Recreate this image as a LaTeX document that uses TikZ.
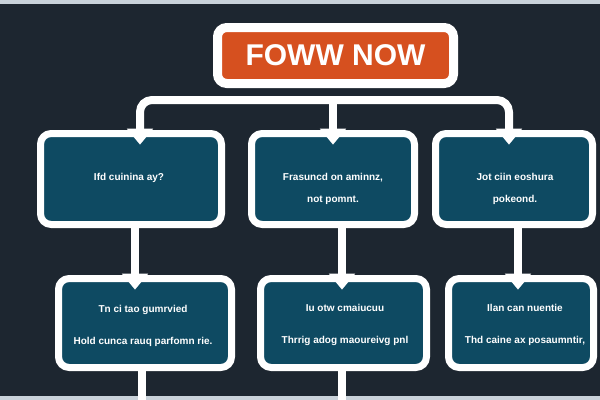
\documentclass[tikz,border=0pt]{standalone}
\usepackage{fontspec}
\setmainfont{Liberation Sans}
\usetikzlibrary{arrows.meta,positioning,calc}
\definecolor{bgnavy}{HTML}{1D2630}
\definecolor{boxteal}{HTML}{0E4A62}
\definecolor{btnorange}{HTML}{D6501F}
\definecolor{stripgrey}{HTML}{C9D2DA}

\begin{document}
\begin{tikzpicture}[x=0.75pt, y=-0.75pt,
  font=\bfseries,
  btn/.style={draw=white, line width=6.75pt, rounded corners=7pt, fill=btnorange,
              minimum width=177pt, minimum height=42pt, inner sep=0pt,
              text=white, font=\fontsize{22.5}{26}\selectfont\bfseries},
  box/.style={draw=white, line width=5.25pt, rounded corners=8pt, fill=boxteal,
              inner sep=0pt},
  ttop/.style={align=center, text=white, inner sep=0pt,
               font=\fontsize{7.5}{16.5}\selectfont\bfseries},
  tbot/.style={align=center, text=white, inner sep=0pt,
               font=\fontsize{7.5}{24}\selectfont\bfseries},
  tip/.style={-{Triangle[width=19pt, length=12pt]}},
  link/.style={draw=white, line width=6pt, line join=round}]

\useasboundingbox (0,0) rectangle (600,400);
\fill[bgnavy] (0,0) rectangle (600,400);
\fill[stripgrey] (0,0) rectangle (600,4);
\fill[stripgrey] (0,396) rectangle (600,400);

% ---------------- the button on top ---------------------------------------
\node[btn] (title) at (335.5,55.5) {FOWW NOW};

% ---------------- first row of boxes --------------------------------------
\node[box, minimum width=135.75pt, minimum height=68.25pt] (b1) at (131,179) {};
\node[box, minimum width=122.25pt, minimum height=68.25pt] (b2) at (333,179) {};
\node[box, minimum width=117.75pt, minimum height=68.25pt] (b3) at (514,179) {};

\node[ttop] (t1) at (129,178) {Ifd cuinina ay?};
\node[ttop] (t2) at (333,189) {Frasuncd on aminnz,\\not pomnt.};
\node[ttop] (t3) at (515,188.5) {Jot ciin eoshura\\pokeond.};

% ---------------- second row of boxes -------------------------------------
\node[box, minimum width=129.75pt, minimum height=66.75pt] (b4) at (145,323) {};
\node[box, minimum width=124.5pt, minimum height=66.75pt] (b5) at (343.5,323) {};
\node[box, minimum width=108.75pt, minimum height=66.75pt] (b6) at (521,323) {};

\node[tbot] (t4) at (143,326) {Tn ci tao gumrvied\\Hold cunca rauq parfomn rie.};
\node[tbot] (t5) at (345,325) {Iu otw cmaiucuu\\Thrrig adog maoureivg pnl};
\node[tbot] (t6) at (525,325) {Ilan can nuentie\\Thd caine ax posaumntir,};

% ---------------- the bar under the button --------------------------------
\coordinate (bar) at (333,100);
\draw[link, rounded corners=9pt, {Triangle[width=19pt, length=12pt]}-{Triangle[width=19pt, length=12pt]},
      shorten <=-11pt, shorten >=-11pt]
  ($(b1.north)+(9,0)$) |- (bar) -| ($(b3.north)+(-5,0)$);
\draw[link, tip, shorten >=-11pt] (bar) -- (b2.north);

% ---------------- from row to row -----------------------------------------
\foreach \u/\l/\x in {b1/b4/135, b2/b5/342, b3/b6/518} {
  \coordinate (x\l) at (\x,0);
  \draw[link, tip, shorten >=-11pt] (\u.south -| x\l) -- (\l.north -| x\l);
}

% ---------------- lines running off the bottom ----------------------------
\coordinate (end4) at (142,400);
\coordinate (end5) at (342,400);
\draw[link] (b4.south -| end4) -- (end4);
\draw[link] (b5.south -| end5) -- (end5);
\end{tikzpicture}
\end{document}
